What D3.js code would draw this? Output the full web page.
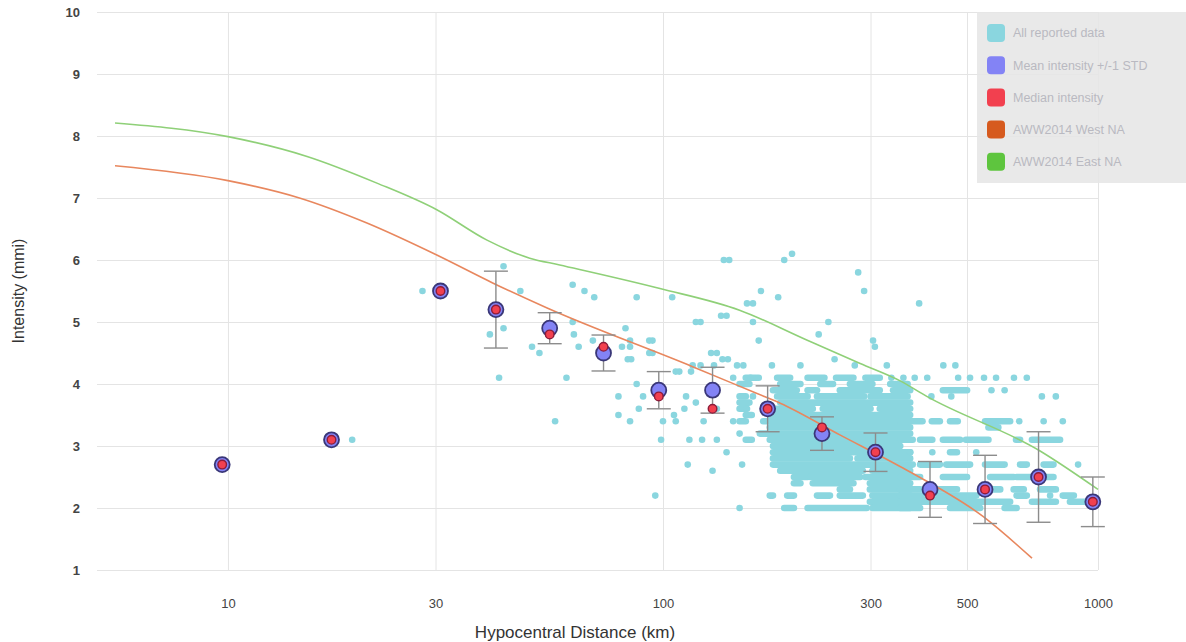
<!DOCTYPE html>
<html>
<head>
<meta charset="utf-8">
<script src="https://cdn.jsdelivr.net/npm/d3@7"></script>
<style>
  html, body { margin: 0; padding: 0; background: #fff; }
  svg { display: block; font-family: "Liberation Sans", Arial, sans-serif; }
</style>
</head>
<body>
<svg id="chart" width="1186" height="642"></svg>
<script>
// Binned statistics (distance in km, intensity in mmi)
const binDistance     = [9.7, 17.3, 30.8, 41.3, 54.9, 73, 97.8, 130, 174, 232, 308, 411, 550, 730, 973];
const meanIntensity   = [2.7, 3.1, 5.5, 5.2, 4.9, 4.5, 3.9, 3.9, 3.6, 3.2, 2.9, 2.3, 2.3, 2.5, 2.1];
const medianIntensity = [2.7, 3.1, 5.5, 5.2, 4.8, 4.6, 3.8, 3.6, 3.6, 3.3, 2.9, 2.2, 2.3, 2.5, 2.1];
const stdIntensity    = [0, 0, 0, 0.62, 0.25, 0.29, 0.3, 0.37, 0.37, 0.27, 0.31, 0.45, 0.55, 0.73, 0.4];

// AWW2014 prediction curves
const westDistance  = [5.5, 10, 14.6, 20.8, 30.2, 40.6, 54, 117, 164, 186, 255, 357, 545, 705];
const westIntensity = [7.52, 7.28, 7.0, 6.6, 6.08, 5.63, 5.23, 4.28, 3.85, 3.69, 3.18, 2.64, 1.86, 1.19];
const eastDistance  = [5.5, 10, 15.2, 22, 30.2, 39.4, 49.4, 57.9, 98.4, 150, 214, 284, 351, 404, 736, 1000];
const eastIntensity = [8.21, 7.99, 7.67, 7.24, 6.81, 6.32, 6.03, 5.92, 5.54, 5.19, 4.71, 4.33, 4.05, 3.8, 2.92, 2.3];

// Single reported values [distance, intensity]
const reportedPoints = [
  [19.3,3.1],[28,5.5],[43,5.9],[47,5.5],[40,4.8],[43,4.9],[42,4.1],
  [62,5.6],[66,5.5],[69.5,5.4],[87,5.4],[105,5.4],[142,6.0],[161,5.3],[122,5.0],[140,5.1],
  [50,4.6],[52,4.5],[62,5.0],[62.4,4.8],[64,4.6],[60,4.1],[56.5,3.4],[69,4.7],[82,4.9],
  [80.5,4.6],[84,4.6],[84,4.7],[84.5,4.4],[94.6,4.7],[94.6,4.5],[87,4.0],[79,3.8],[90,3.8],
  [79,3.5],[84,3.4],[88,3.6],[100,3.4],[106,3.5],[109,4.2],[116,4.2],[113,3.8],[119,3.7],
  [112,3.6],[133,4.5],[141,4.4],[131,4.3],[122,4.3],[153,4.3],[159,4.1],[145,4.1],[107,3.4],
  [124,3.4],[96,2.2],[114,2.7],[150,2.0],
  [138,6.0],[190,6.0],[198,6.1],[168,5.5],[184,5.4],[156,5.3],[281,5.8],[290,5.5],[388,5.3],
  [119,5.0],[136,5.1],[161,5.0],[166,4.7],[240,5.0],[228,4.8],[304,4.7],[307,4.6],[93,4.7],
  [93,4.5],[83,4.4],[129,4.5],[137,4.4],[107,4.2],[117,4.3],[148,4.3],[178,4.3],[207,4.3],
  [248,4.4],[276,4.3],[327,4.3],[441,4.3],[379,4.1],[335,4.1],[477,4.1],[547,4.1],[641,4.1],
  [569,3.9],[743,3.8],[414,3.8],[460,3.8],[470,4.3],[357,4.1],[405,4.1],[508,4.1],[583,4.1],
  [686,4.1],[610,3.9],[800,3.8],[161,3.8],[156,3.6],[133,3.6],[145,3.4],[99,3.1],[115,3.1],
  [123,3.1],[133,3.1],[152,2.7],[140,2.9],[130,2.6],[166,4.1]
];

// Rows of touching reported values [intensity, from km, to km]
const reportedRuns = [
  [4.1,155,164],[4.1,183,196],[4.1,215,235],[4.1,250,274],[4.1,292,315],
  [4.0,150,158],[4.0,186,207],[4.0,230,246],[4.0,269,303],[4.0,333,365],
  [3.9,179,203],[3.9,215,226],[3.9,255,315],[3.9,338,370],[3.9,440,500],
  [3.8,150,155],[3.8,183,215],[3.8,226,290],[3.8,300,365],
  [3.7,150,158],[3.7,186,370],
  [3.6,150,155],[3.6,179,221],[3.6,233,300],[3.6,315,370],
  [3.5,155,160],[3.5,176,370],
  [3.4,150,155],[3.4,170,370],
  [3.3,176,370],
  [3.2,150,150],[3.2,167,370],
  [3.1,155,160],[3.1,176,370],
  [3.0,179,351],
  [2.9,179,370],
  [2.8,179,269],[2.8,280,370],
  [2.7,179,370],
  [2.6,186,288],[2.6,303,370],
  [2.5,200,215],[2.5,218,284],[2.5,292,370],
  [2.4,200,207],[2.4,221,274],[2.4,299,370],
  [2.3,255,269],[2.3,299,370],
  [2.2,176,179],[2.2,193,200],[2.2,226,242],[2.2,255,288],[2.2,303,370],
  [2.1,299,370],
  [2.0,190,200],[2.0,215,294],[2.0,303,370],
  [3.4,351,395],[3.4,415,433],[3.4,457,476],[3.4,550,628],[3.4,659,659],[3.4,750,750],[3.4,830,830],
  [3.3,560,590],
  [3.1,351,375],[3.1,390,416],[3.1,440,482],[3.1,497,560],[3.1,648,662],[3.1,705,818],
  [2.9,370,370],[2.9,416,416],[2.9,457,474],[2.9,525,525],
  [2.7,351,375],[2.7,390,433],[2.7,448,508],[2.7,550,610],[2.7,662,686],[2.7,750,790],[2.7,900,900],
  [2.5,351,390],[2.5,440,500],[2.5,565,640],[2.5,650,790],
  [2.3,351,390],[2.3,415,474],[2.3,550,596],[2.3,640,675],[2.3,736,800],
  [2.2,351,525],[2.2,650,686],[2.2,776,776],[2.2,830,880],
  [2.1,351,628],[2.1,705,800],[2.1,862,945],
  [2.0,351,390],[2.0,457,536],[2.0,610,650]
];

const xTicks = [10, 30, 100, 300, 500, 1000];
const yTicks = [1, 2, 3, 4, 5, 6, 7, 8, 9, 10];

const legendLabels = ["All reported data", "Mean intensity +/-1 STD", "Median intensity", "AWW2014 West NA", "AWW2014 East NA"];
const legendColors = ["#8ad6df", "#8383f5", "#f2404f", "#d65a1e", "#5ec53e"];

/**
 * Draw the intensity vs. distance chart
 */
function drawChart() {
  const svg = d3.select("#chart");
  const left = 97, right = 1098, top = 12, bottom = 570;

  const x = d3.scaleLog().domain([5, 1000]).range([left, right]);
  const y = d3.scaleLinear().domain([1, 10]).range([bottom, top]);

  // Grid + tick labels
  const yAxis = svg.append("g")
    .attr("transform", `translate(${left},0)`)
    .call(d3.axisLeft(y).tickValues(yTicks).tickSize(-(right - left)).tickPadding(17));
  const xAxis = svg.append("g")
    .attr("transform", `translate(0,${bottom})`)
    .call(d3.axisBottom(x).tickValues(xTicks).tickFormat(d3.format("d")).tickSize(-(bottom - top)).tickPadding(29));

  [yAxis, xAxis].forEach(g => {
    g.select(".domain").remove();
    g.selectAll(".tick line").attr("stroke", "#e4e4e4").attr("stroke-width", 1);
    g.selectAll(".tick text").attr("fill", "#444").style("font-size", "13px");
  });
  yAxis.selectAll(".tick text").style("font-weight", "bold");

  // Axis titles
  svg.append("text")
    .attr("transform", "translate(24,291) rotate(-90)")
    .attr("text-anchor", "middle")
    .attr("fill", "#333")
    .style("font-size", "16px")
    .text("Intensity (mmi)");
  svg.append("text")
    .attr("x", 575).attr("y", 638)
    .attr("text-anchor", "middle")
    .attr("fill", "#333")
    .style("font-size", "17px")
    .text("Hypocentral Distance (km)");

  // All reported data
  const dot = 3.3;
  svg.append("g").selectAll("rect")
    .data(reportedRuns)
    .enter()
    .append("rect")
    .attr("x", d => x(d[1]) - dot)
    .attr("y", d => y(d[0]) - dot)
    .attr("width", d => x(d[2]) - x(d[1]) + 2 * dot)
    .attr("height", 2 * dot)
    .attr("rx", dot)
    .attr("fill", legendColors[0]);
  svg.append("g").selectAll("circle")
    .data(reportedPoints)
    .enter()
    .append("circle")
    .attr("cx", d => x(d[0]))
    .attr("cy", d => y(d[1]))
    .attr("r", dot)
    .attr("fill", legendColors[0]);

  // Prediction curves
  const line = d3.line()
    .x(d => x(d[0]))
    .y(d => y(d[1]))
    .curve(d3.curveMonotoneX);
  svg.append("path")
    .datum(westDistance.map((d, i) => [d, westIntensity[i]]))
    .attr("d", line)
    .attr("fill", "none")
    .attr("stroke", "#e8875e")
    .attr("stroke-width", 1.6);
  svg.append("path")
    .datum(eastDistance.map((d, i) => [d, eastIntensity[i]]))
    .attr("d", line)
    .attr("fill", "none")
    .attr("stroke", "#8fd078")
    .attr("stroke-width", 1.6);

  // Mean +/- 1 STD
  const bins = binDistance.map((d, i) => ({ d: d, mean: meanIntensity[i], median: medianIntensity[i], std: stdIntensity[i] }));
  const bars = svg.append("g")
    .selectAll("g")
    .data(bins.filter(b => b.std > 0))
    .enter()
    .append("g")
    .attr("stroke", "#8c8c8c")
    .attr("stroke-width", 1.4);
  bars.append("line")
    .attr("x1", b => x(b.d)).attr("x2", b => x(b.d))
    .attr("y1", b => y(b.mean + b.std)).attr("y2", b => y(b.mean - b.std));
  bars.append("line")
    .attr("x1", b => x(b.d) - 12).attr("x2", b => x(b.d) + 12)
    .attr("y1", b => y(b.mean + b.std)).attr("y2", b => y(b.mean + b.std));
  bars.append("line")
    .attr("x1", b => x(b.d) - 12).attr("x2", b => x(b.d) + 12)
    .attr("y1", b => y(b.mean - b.std)).attr("y2", b => y(b.mean - b.std));

  svg.append("g").selectAll("circle")
    .data(bins)
    .enter()
    .append("circle")
    .attr("cx", b => x(b.d))
    .attr("cy", b => y(b.mean))
    .attr("r", 7.5)
    .attr("fill", legendColors[1])
    .attr("stroke", "#3a3778")
    .attr("stroke-width", 1.8);

  svg.append("g").selectAll("circle")
    .data(bins)
    .enter()
    .append("circle")
    .attr("cx", b => x(b.d))
    .attr("cy", b => y(b.median))
    .attr("r", 4.3)
    .attr("fill", legendColors[2])
    .attr("stroke", "#8c1c3a")
    .attr("stroke-width", 1.4);

  // Legend
  const legend = svg.append("g");
  legend.append("rect")
    .attr("x", 977).attr("y", 12)
    .attr("width", 209).attr("height", 171)
    .attr("fill", "#e6e6e6")
    .attr("opacity", 0.88);
  const item = legend.selectAll("g.item")
    .data(legendLabels)
    .enter()
    .append("g")
    .attr("class", "item")
    .attr("transform", (d, i) => `translate(987,${33 + i * 32.2})`);
  item.append("rect")
    .attr("x", 0).attr("y", -9)
    .attr("width", 18).attr("height", 18)
    .attr("rx", 4)
    .attr("fill", (d, i) => legendColors[i]);
  item.append("text")
    .attr("x", 26).attr("dy", "0.35em")
    .attr("fill", "#b9b9c1")
    .style("font-size", "12.5px")
    .text(d => d);
}

drawChart();
</script>
</body>
</html>
